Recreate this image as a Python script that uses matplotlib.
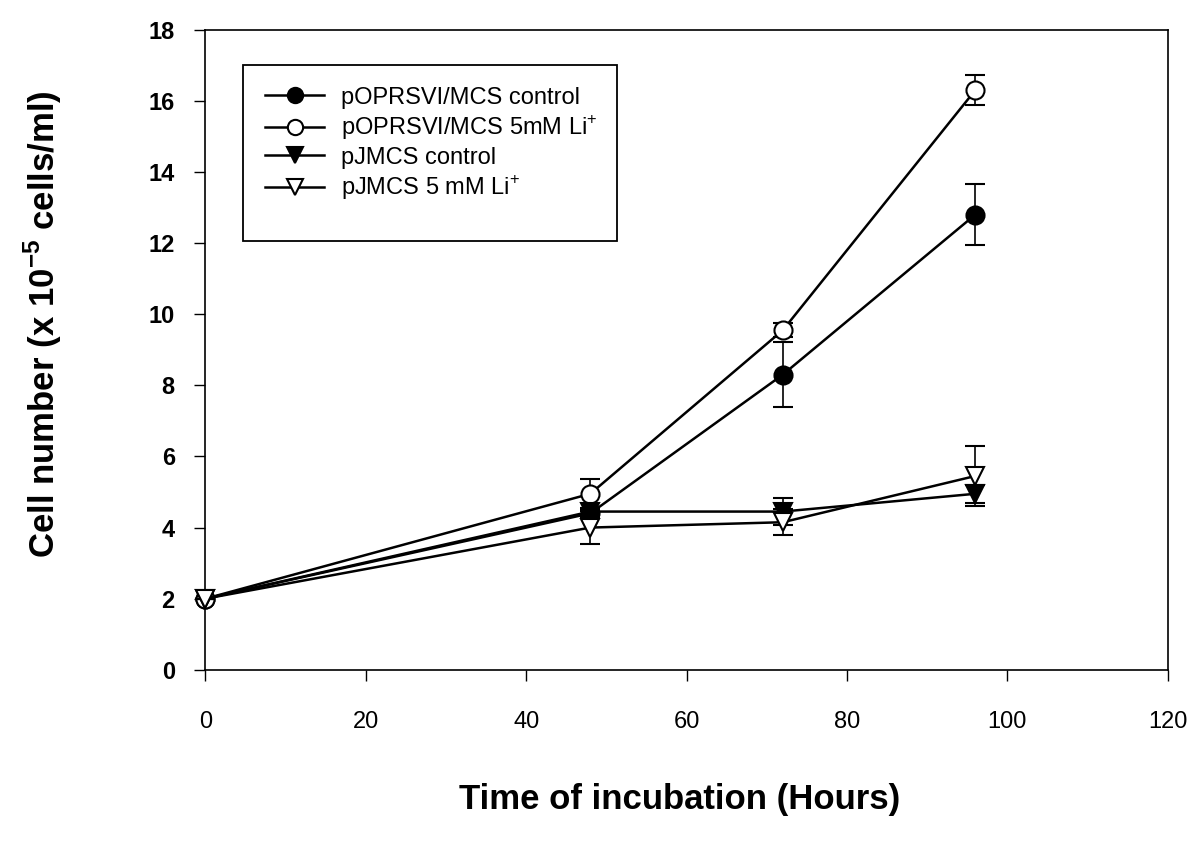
import matplotlib
matplotlib.use("Agg")
import matplotlib.pyplot as plt
from matplotlib.lines import Line2D
from matplotlib.patches import Rectangle

plt.rcParams['font.family'] = ['Liberation Sans', 'DejaVu Sans']
plt.rcParams['mathtext.fontset'] = 'custom'
plt.rcParams['mathtext.rm'] = 'Liberation Sans'
plt.rcParams['mathtext.bf'] = 'Liberation Sans:bold'

hours = [0, 48, 72, 96]
opr_ctrl = [2.0, 4.4, 8.3, 12.8]
opr_ctrl_err = [0.0, 0.1, 0.92, 0.86]
opr_li = [2.0, 4.95, 9.55, 16.3]
opr_li_err = [0.0, 0.42, 0.2, 0.43]
pj_ctrl = [2.0, 4.45, 4.45, 4.95]
pj_ctrl_err = [0.0, 0.1, 0.37, 0.25]
pj_li = [2.0, 4.0, 4.15, 5.45]
pj_li_err = [0.0, 0.47, 0.36, 0.85]

labels = ["pOPRSVI/MCS control", "pOPRSVI/MCS 5mM Li$^{+}$",
          "pJMCS control", "pJMCS 5 mM Li$^{+}$"]
xticks = [0, 20, 40, 60, 80, 100, 120]
yticks = [0, 2, 4, 6, 8, 10, 12, 14, 16, 18]

fig = plt.figure(figsize=(11.94, 8.5), dpi=100)
ax = fig.add_axes([0.172, 0.212, 0.806, 0.753])

series = [
    (opr_ctrl, opr_ctrl_err, 'o', 'black'),
    (opr_li, opr_li_err, 'o', 'white'),
    (pj_ctrl, pj_ctrl_err, 'v', 'black'),
    (pj_li, pj_li_err, 'v', 'white'),
]
handles = []
for i, ((vals, err, m, fc), lab) in enumerate(zip(series, labels)):
    cont = ax.errorbar(hours, vals, yerr=err, fmt='-', marker=m, color='black',
                       mfc=fc, mec='black', ms=13, mew=1.5, lw=1.8,
                       capsize=7, elinewidth=1.2, capthick=1.2, zorder=3 + i)
    for art in [cont.lines[0]] + list(cont.lines[1]) + list(cont.lines[2]):
        art.set_clip_on(False)
    handles.append(Line2D([], [], color='black', lw=1.8, marker=m, mfc=fc,
                          mec='black', ms=11, mew=1.5, label=lab))

ax.set_xlim(0, 120)
ax.set_ylim(0, 18)
ax.set_xticks(xticks)
ax.set_yticks(yticks)
ax.tick_params(direction='out', length=8, width=1)
ax.tick_params(axis='x', labelsize=17, pad=22)
ax.tick_params(axis='y', labelsize=17, pad=14)
for t in ax.get_yticklabels():
    t.set_fontweight('bold')
for s in ax.spines.values():
    s.set_linewidth(1.2)

ax.set_xlabel("Time of incubation (Hours)", fontsize=25, fontweight='bold')
ax.xaxis.set_label_coords(0.493, -0.203)
ax.xaxis.label.set_va('center')
ax.set_ylabel("Cell number (x 10$^{\\mathbf{-5}}$ cells/ml)", fontsize=25,
              fontweight='bold')
ax.yaxis.set_label_coords(-0.169, 0.54)
ax.yaxis.label.set_va('center')

leg = ax.legend(handles=handles, loc='upper left', bbox_to_anchor=(0.062, 0.911),
                fontsize=17, frameon=False, handlelength=2.5, handletextpad=0.7,
                borderpad=0.0, borderaxespad=0.0, labelspacing=0.2)

fig.canvas.draw()
bb = leg.get_window_extent()
texts = [t.get_window_extent() for t in leg.get_texts()]
W, H = fig.get_size_inches() * fig.dpi
row_top = (texts[0].y0 + texts[0].y1) / 2
row_bot = (texts[-1].y0 + texts[-1].y1) / 2
x0 = bb.x0 - 22
x1 = max(t.x1 for t in texts) + 20
y1 = row_top + 33
y0 = row_bot - 53
rect = Rectangle((x0 / W, y0 / H), (x1 - x0) / W, (y1 - y0) / H,
                 transform=fig.transFigure, fill=False, edgecolor='black',
                 linewidth=1.3, zorder=10)
fig.add_artist(rect)

fig.savefig("out.png", dpi=100)
